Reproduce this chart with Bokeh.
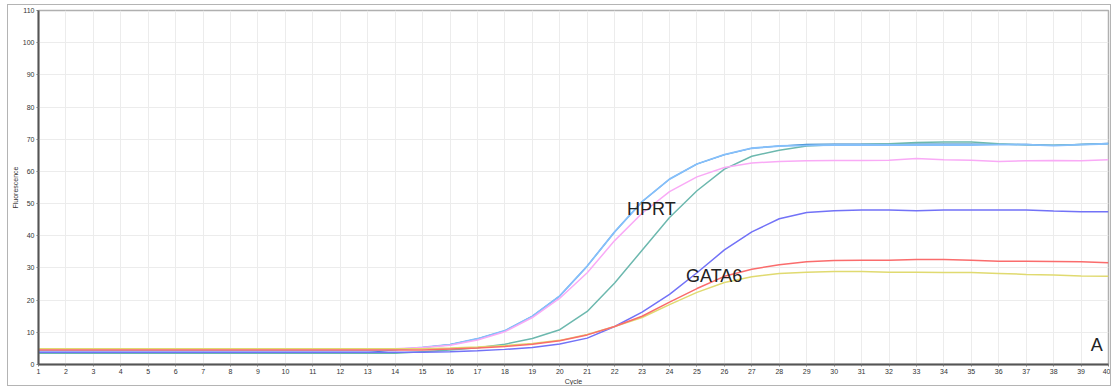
from bokeh.plotting import figure
from bokeh.models import ColumnDataSource, Range1d, FixedTicker
from bokeh.core.properties import value
from bokeh.embed import file_html
from bokeh.resources import INLINE

cycles = list(range(1, 41))

# Amplification curves (fluorescence per cycle)
hprt_1 = [4.3] * 13 + [4.6, 5.3, 6.2, 8.0, 10.5, 15.0, 21.3, 30.6, 41.2, 50.6, 57.6, 62.3, 65.2,
                       67.2, 67.9, 68.1, 68.2, 68.2, 68.2, 68.2, 68.2, 68.2, 68.3, 68.3, 68.0, 68.3, 68.6]
hprt_4 = [3.7] * 13 + [4.6, 5.3, 6.2, 8.0, 10.5, 15.0, 21.3, 30.6, 41.2, 50.6, 57.6, 62.3, 65.2,
                       67.2, 67.9, 68.4, 68.5, 68.5, 68.5, 68.5, 68.5, 68.5, 68.4, 68.4, 68.1, 68.4, 68.7]
hprt_2 = [4.8] * 13 + [4.9, 5.3, 6.0, 7.6, 10.2, 14.6, 20.6, 28.5, 38.5, 47.0, 53.7, 58.3, 61.2,
                       62.6, 63.1, 63.3, 63.4, 63.4, 63.5, 64.0, 63.6, 63.5, 63.1, 63.3, 63.4, 63.3, 63.6]
hprt_3 = [3.5] * 14 + [4.0, 4.5, 5.2, 6.3, 8.1, 10.8, 16.5, 25.3, 35.5, 45.7, 54.0, 60.7,
                       64.7, 66.6, 67.9, 68.3, 68.4, 68.6, 69.0, 69.1, 69.1, 68.6, 68.2, 68.1, 68.4, 68.6]
gata6_1 = [3.8] * 15 + [4.0, 4.3, 4.7, 5.3, 6.4, 8.2, 11.8, 16.3, 21.8, 28.5, 35.6,
                        41.2, 45.3, 47.2, 47.8, 48.0, 48.0, 47.8, 48.0, 48.0, 48.0, 48.0, 47.7, 47.5, 47.5]
gata6_2 = [4.5] * 15 + [4.8, 5.1, 5.6, 6.3, 7.4, 9.2, 11.8, 15.0, 19.4, 23.6, 27.4,
                        29.6, 31.0, 31.9, 32.3, 32.4, 32.4, 32.6, 32.6, 32.4, 32.1, 32.1, 32.0, 31.9, 31.6]
gata6_3 = [4.9] * 15 + [5.1, 5.4, 5.9, 6.5, 7.5, 9.3, 11.8, 14.6, 18.6, 22.4, 25.5,
                        27.3, 28.3, 28.7, 28.9, 28.9, 28.7, 28.7, 28.6, 28.6, 28.3, 28.0, 27.8, 27.5, 27.4]

series = [
    (hprt_4, "#2a7fc0", 1.1),
    (hprt_3, "#6cb8ae", 1.5),
    (hprt_1, "#85bffa", 1.8),
    (hprt_2, "#f9aaf6", 1.5),
    (gata6_1, "#7272f7", 1.5),
    (gata6_3, "#e0da70", 1.5),
    (gata6_2, "#fa6c6c", 1.5),
]

label_text = ["HPRT", "GATA6", "A"]
label_x = [22.45, 24.6, 39.35]
label_y = [48.3, 27.6, 6.2]

p = figure(
    width=1104, height=382,
    x_range=Range1d(1, 40), y_range=Range1d(0, 110),
    output_backend="svg", toolbar_location=None,
    min_border_left=29, min_border_right=4, min_border_top=5, min_border_bottom=23,
    margin=(4, 0, 0, 7),
    styles={"border": "1px solid #b4b4b4"},
)

p.background_fill_color = "white"
p.border_fill_color = "white"
p.outline_line_color = "#b0b0b0"
p.outline_line_width = 1.5

p.xgrid.grid_line_color = "#ececec"
p.ygrid.grid_line_color = "#ececec"
p.xaxis.ticker = FixedTicker(ticks=cycles)
p.yaxis.ticker = FixedTicker(ticks=list(range(0, 111, 10)))

for ax in (p.xaxis, p.yaxis):
    ax.axis_line_color = "#555555"
    ax.axis_line_width = 2
    ax.major_tick_line_color = "#777777"
    ax.major_tick_in = 0
    ax.major_tick_out = 2
    ax.minor_tick_line_color = None
    ax.major_label_text_font = "Liberation Sans"
    ax.major_label_text_font_size = "7px"
    ax.major_label_text_color = "#333333"
    ax.major_label_standoff = 2
    ax.axis_label_text_font = "Liberation Sans"
    ax.axis_label_text_font_size = "7px"
    ax.axis_label_text_font_style = "normal"
    ax.axis_label_text_color = "#333333"
    ax.axis_label_standoff = 1

p.xaxis.axis_label = "Cycle"
p.yaxis.axis_label = "Fluorescence"

for vals, col, lw in series:
    src = ColumnDataSource(dict(x=cycles, y=vals))
    p.line("x", "y", source=src, line_color=col, line_width=lw)

p.text(x=label_x, y=label_y, text=label_text,
       text_font=value("Liberation Sans"), text_font_size="18px",
       text_color="#222222", text_baseline="middle", text_align="left")

open("out.html", "w").write(file_html(p, INLINE))
